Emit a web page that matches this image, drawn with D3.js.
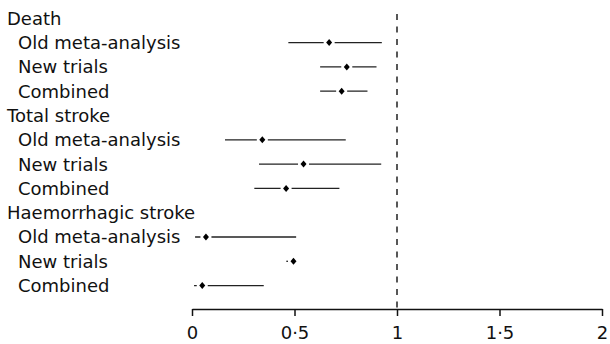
<!DOCTYPE html>
<meta charset="utf-8">
<script src="https://d3js.org/d3.v7.min.js"></script>
<style>
  body { margin: 0; background: #fff; }
  text { font-family: "DejaVu Sans", sans-serif; font-size: 18px; fill: #111; }
</style>
<div id="my_dataviz"></div>
<script>

// outcomes and comparisons
var groups = ["Death", "Total stroke", "Haemorrhagic stroke"];
var subgroups = ["Old meta-analysis", "New trials", "Combined"];

// relative risk point estimates and 95% CI, one row per group
var estimate = [[0.669, 0.755, 0.730], [0.343, 0.544, 0.459], [0.068, 0.495, 0.050]];
var lower    = [[0.470, 0.625, 0.625], [0.161, 0.327, 0.304], [0.015, 0.460, 0.010]];
var upper    = [[0.926, 0.900, 0.856], [0.750, 0.923, 0.719], [0.508, 0.510, 0.350]];

var xTicks = [0, 0.5, 1, 1.5, 2];

var width = 610, height = 344;

var svg = d3.select("#my_dataviz")
  .append("svg")
    .attr("width", width)
    .attr("height", height);

// build the list of rows (group header followed by its subgroups)
var rows = [];
groups.forEach(function(g, gi) {
  rows.push({id: g, label: g, header: true});
  subgroups.forEach(function(s, si) {
    rows.push({id: g + ":" + s, label: s, header: false,
               est: estimate[gi][si], lo: lower[gi][si], hi: upper[gi][si]});
  });
});

var x = d3.scaleLinear()
  .domain([0, 2])
  .range([192, 602]);

var y = d3.scalePoint()
  .domain(rows.map(function(d) { return d.id; }))
  .range([18.3, 285.6]);

// row labels
svg.selectAll(".lab")
  .data(rows)
  .enter()
  .append("text")
    .attr("class", "lab")
    .attr("x", function(d) { return d.header ? 7 : 18; })
    .attr("y", function(d) { return y(d.id); })
    .attr("dy", "0.36em")
    .text(function(d) { return d.label; });

// line of no effect
svg.append("line")
  .attr("x1", x(1)).attr("x2", x(1))
  .attr("y1", 14).attr("y2", 309)
  .attr("stroke", "#111")
  .attr("stroke-width", 1.4)
  .attr("stroke-dasharray", "6,6.5");

// x axis
var axis = svg.append("g")
  .attr("transform", "translate(0,309)")
  .call(d3.axisBottom(x)
    .tickValues(xTicks)
    .tickSize(7)
    .tickSizeOuter(0)
    .tickPadding(10)
    .tickFormat(function(d) { return String(d).replace(".", "\u00b7"); }));
axis.select(".domain").attr("stroke", "#111").attr("stroke-width", 1.5);
axis.selectAll(".tick line").attr("stroke", "#111").attr("stroke-width", 1.5);
axis.selectAll(".tick text")
  .attr("fill", "#111")
  .style("font-family", "'DejaVu Sans', sans-serif")
  .style("font-size", "18px");

// confidence intervals
var data = rows.filter(function(d) { return !d.header; });

svg.selectAll(".ci")
  .data(data)
  .enter()
  .append("line")
    .attr("class", "ci")
    .attr("x1", function(d) { return x(d.lo); })
    .attr("x2", function(d) { return x(d.hi); })
    .attr("y1", function(d) { return y(d.id); })
    .attr("y2", function(d) { return y(d.id); })
    .attr("stroke", "#222")
    .attr("stroke-width", 1.3);

// white gap around the estimate
svg.selectAll(".gap")
  .data(data)
  .enter()
  .append("rect")
    .attr("class", "gap")
    .attr("x", function(d) { return x(d.est) - 5.5; })
    .attr("y", function(d) { return y(d.id) - 2.5; })
    .attr("width", 11)
    .attr("height", 5)
    .attr("fill", "#fff");

// point estimates
svg.selectAll(".pt")
  .data(data)
  .enter()
  .append("path")
    .attr("class", "pt")
    .attr("transform", function(d) { return "translate(" + x(d.est) + "," + y(d.id) + ")"; })
    .attr("d", "M0,-3.5L3,0L0,3.5L-3,0Z")
    .attr("fill", "#000");

</script>
